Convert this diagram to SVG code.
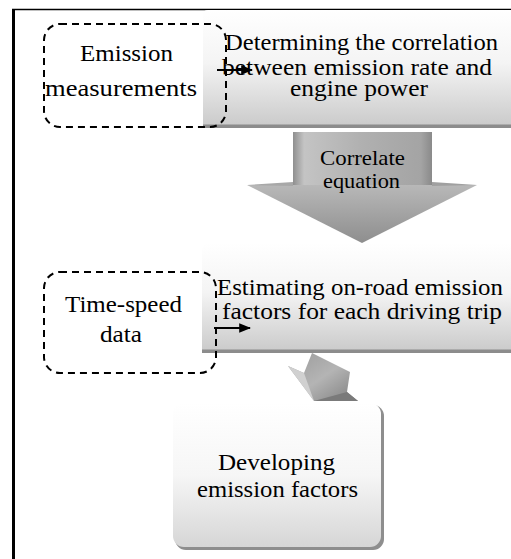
<svg xmlns="http://www.w3.org/2000/svg" width="511" height="559" viewBox="0 0 511 559">
<defs>
<linearGradient id="boxg" x1="0" y1="0" x2="0" y2="1">
<stop offset="0" stop-color="#ffffff"/>
<stop offset="0.45" stop-color="#f4f4f4"/>
<stop offset="1" stop-color="#c9c9c9"/>
</linearGradient>
<linearGradient id="box3g" x1="0" y1="0" x2="0" y2="1">
<stop offset="0" stop-color="#ffffff"/>
<stop offset="0.5" stop-color="#f6f6f6"/>
<stop offset="1" stop-color="#d6d6d6"/>
</linearGradient>
<linearGradient id="arrg" x1="0" y1="0" x2="1" y2="0">
<stop offset="0" stop-color="#8f8f8f"/>
<stop offset="0.08" stop-color="#c4c4c4"/>
<stop offset="0.5" stop-color="#b0b0b0"/>
<stop offset="0.92" stop-color="#a4a4a4"/>
<stop offset="1" stop-color="#8a8a8a"/>
</linearGradient>
<linearGradient id="headg" x1="0" y1="0" x2="0" y2="1">
<stop offset="0" stop-color="#b8b8b8"/>
<stop offset="1" stop-color="#8e8e8e"/>
</linearGradient>
<linearGradient id="tiltg" x1="0" y1="0" x2="1" y2="1">
<stop offset="0" stop-color="#9a9a9a"/>
<stop offset="0.5" stop-color="#b4b4b4"/>
<stop offset="1" stop-color="#7e7e7e"/>
</linearGradient>
<marker id="ah" viewBox="0 0 10 10" refX="9" refY="5" markerWidth="6" markerHeight="6" orient="auto" markerUnits="strokeWidth">
<path d="M0,1 L10,5 L0,9 z" fill="#000"/>
</marker>
</defs>
<style>
text{font-family:"Liberation Serif","Times New Roman",serif;fill:#000;}
.t24{font-size:23px;}
.t22{font-size:22px;}
.dash{fill:none;stroke:#000;stroke-width:2;stroke-dasharray:7,5;}
.conn{stroke:#000;stroke-width:2;fill:none;marker-end:url(#ah);}
</style>
<rect width="511" height="559" fill="#fff"/>
<line x1="13.5" y1="9" x2="13.5" y2="559" stroke="#000" stroke-width="3"/>
<line x1="12" y1="9.5" x2="511" y2="9.5" stroke="#000" stroke-width="1.5"/>

<g id="box-correlation">
<path d="M208,10 H515 V128 H203 V15 Q203,10 208,10 Z" fill="url(#boxg)"/>
<rect x="203" y="124.5" width="312" height="3.5" fill="#8c8c8c"/>
<text class="t24" x="225" y="50" textLength="273" lengthAdjust="spacingAndGlyphs">Determining the correlation</text>
<text class="t24" x="222" y="75" textLength="270" lengthAdjust="spacingAndGlyphs">between emission rate and</text>
<text class="t24" x="290" y="96" textLength="138" lengthAdjust="spacingAndGlyphs">engine power</text>
</g>

<g id="emission-measurements">
<rect class="dash" x="44" y="24" width="182" height="103" rx="16" ry="16"/>
<text class="t24" x="80" y="61" textLength="93" lengthAdjust="spacingAndGlyphs">Emission</text>
<text class="t24" x="45" y="96" textLength="152" lengthAdjust="spacingAndGlyphs">measurements</text>
</g>

<g id="arrow-correlate">
<rect x="293" y="132" width="139" height="53" fill="url(#arrg)"/>
<polygon points="247,185 477,185 362,243" fill="url(#headg)"/>
<polygon points="247,185 293,182 293,186" fill="#a8a8a8"/>
<polygon points="432,182 477,185 432,186" fill="#a0a0a0"/>
<text class="t22" x="320" y="165" textLength="85" lengthAdjust="spacingAndGlyphs">Correlate</text>
<text class="t22" x="323" y="188" textLength="77" lengthAdjust="spacingAndGlyphs">equation</text>
</g>

<g id="box-estimating">
<path d="M210,243 H515 V353 H202 V251 Q202,243 210,243 Z" fill="url(#boxg)"/>
<rect x="202" y="349.5" width="313" height="3.5" fill="#8c8c8c"/>
<text class="t24" x="217" y="295" textLength="286" lengthAdjust="spacingAndGlyphs">Estimating on-road emission</text>
<text class="t24" x="222" y="319" textLength="280" lengthAdjust="spacingAndGlyphs">factors for each driving trip</text>
</g>

<g id="time-speed">
<rect class="dash" x="44" y="272" width="172" height="101" rx="16" ry="16"/>
<text class="t24" x="65" y="312" textLength="117" lengthAdjust="spacingAndGlyphs">Time-speed</text>
<text class="t24" x="100" y="342" textLength="42" lengthAdjust="spacingAndGlyphs">data</text>
</g>

<g id="arrow-tilted">
<polygon points="312,353 350,372 347,392 358,401 314,401 288,366 304,373" fill="url(#tiltg)"/>
<polygon points="288,366 304,373 314,401" fill="#d0d0d0"/>
<polygon points="314,401 347,392 358,401" fill="#7a7a7a"/>
</g>

<g id="box-developing">
<rect x="175" y="405" width="209" height="145" rx="11" ry="11" fill="#8e8e8e"/>
<rect x="173" y="403" width="208" height="144" rx="11" ry="11" fill="url(#box3g)"/>
<text class="t24" x="218" y="470" textLength="117" lengthAdjust="spacingAndGlyphs">Developing</text>
<text class="t24" x="197" y="497" textLength="161" lengthAdjust="spacingAndGlyphs">emission factors</text>
</g>

<g id="connectors">
<line class="conn" x1="217" y1="70" x2="252" y2="70"/>
<line class="conn" x1="214" y1="328" x2="250" y2="328"/>
</g>
</svg>
